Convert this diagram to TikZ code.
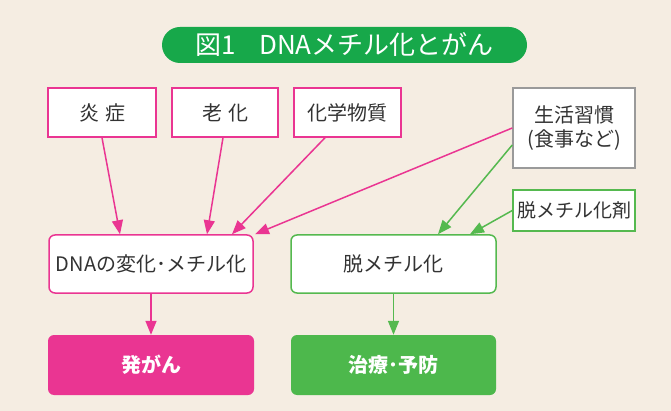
\documentclass[tikz,border=0pt]{standalone}
\usepackage{fontspec}
\setmainfont{Noto Sans CJK JP}
\usetikzlibrary{arrows.meta,calc}
\definecolor{bg}{HTML}{F5EDE2}
\definecolor{pinkc}{HTML}{EA3592}
\definecolor{greenl}{HTML}{55B94F}
\definecolor{greent}{HTML}{17A84A}
\definecolor{greenf}{HTML}{4DB84C}
\definecolor{grayb}{HTML}{9A9A9A}
\definecolor{txt}{HTML}{333333}
\begin{document}
\begin{tikzpicture}[x=1pt,y=-1pt,
  every node/.style={inner sep=0pt, font=\fontsize{20}{24}\selectfont, text=txt},
  sbox/.style={draw=pinkc, fill=white, line width=1.5pt, minimum height=49pt},
  rbox/.style={fill=white, line width=1.5pt, rounded corners=6pt, minimum width=204pt, minimum height=58pt},
  fbox/.style={rounded corners=6pt, minimum width=205pt, minimum height=60pt, text=white, font=\fontsize{20}{24}\selectfont\bfseries},
  parr/.style={draw=pinkc, line width=1.5pt, -{Triangle[width=11pt,length=14pt]}},
  garr/.style={draw=greenl, line width=1.5pt, -{Triangle[width=11pt,length=14pt]}}]
\fill[bg] (0,0) rectangle (671,411);
\useasboundingbox (0,0) rectangle (671,411);
\node[fill=greent, rounded corners=18pt, minimum width=365pt, minimum height=36pt, text=white, font=\fontsize{26}{28}\selectfont] (title) at (344.5,45) {図1\hspace{0.9em}DNAメチル化とがん};
\node[sbox, minimum width=108pt] (yan) at (102,112.5) {炎\hspace{0.3em}症};
\node[sbox, minimum width=106pt] (rou) at (225,112.5) {老\hspace{0.3em}化};
\node[sbox, minimum width=107pt] (kag) at (347.5,112.5) {化学物質};
\node[draw=grayb, fill=white, line width=1.5pt, minimum width=122pt, minimum height=80pt, align=center] (sei) at (574,128) {生活習慣\\(食事など)};
\node[draw=greenl, fill=white, line width=1.5pt, minimum width=122pt, minimum height=41pt, font=\fontsize{19}{22}\selectfont] (zai) at (574,210.5) {脱メチル化剤};
\node[rbox, draw=pinkc] (dna) at (151,264) {DNAの変化･メチル化};
\node[rbox, draw=greenl, minimum width=205pt] (dat) at (393.5,264) {脱メチル化};
\node[fbox, fill=pinkc, minimum width=206pt] (gan) at (151,365) {発がん};
\node[fbox, fill=greenf] (chi) at (393.5,365) {治療･予防};
\draw[parr] (yan.south) -- ([xshift=-31pt]dna.north);
\draw[parr] ([xshift=-2pt]rou.south) -- ([xshift=56pt]dna.north);
\draw[parr] ([xshift=-22.5pt]kag.south) -- ([xshift=81pt]dna.north);
\draw[parr] (sei.west) -- ([xshift=104pt]dna.north);
\draw[garr] ([yshift=-17pt]sei.west) -- ([xshift=44.5pt]dat.north);
\draw[garr] (zai.west) -- ([xshift=76.5pt]dat.north);
\draw[parr] (dna.south) -- (gan.north);
\draw[garr] (dat.south) -- (chi.north);
\end{tikzpicture}
\end{document}
